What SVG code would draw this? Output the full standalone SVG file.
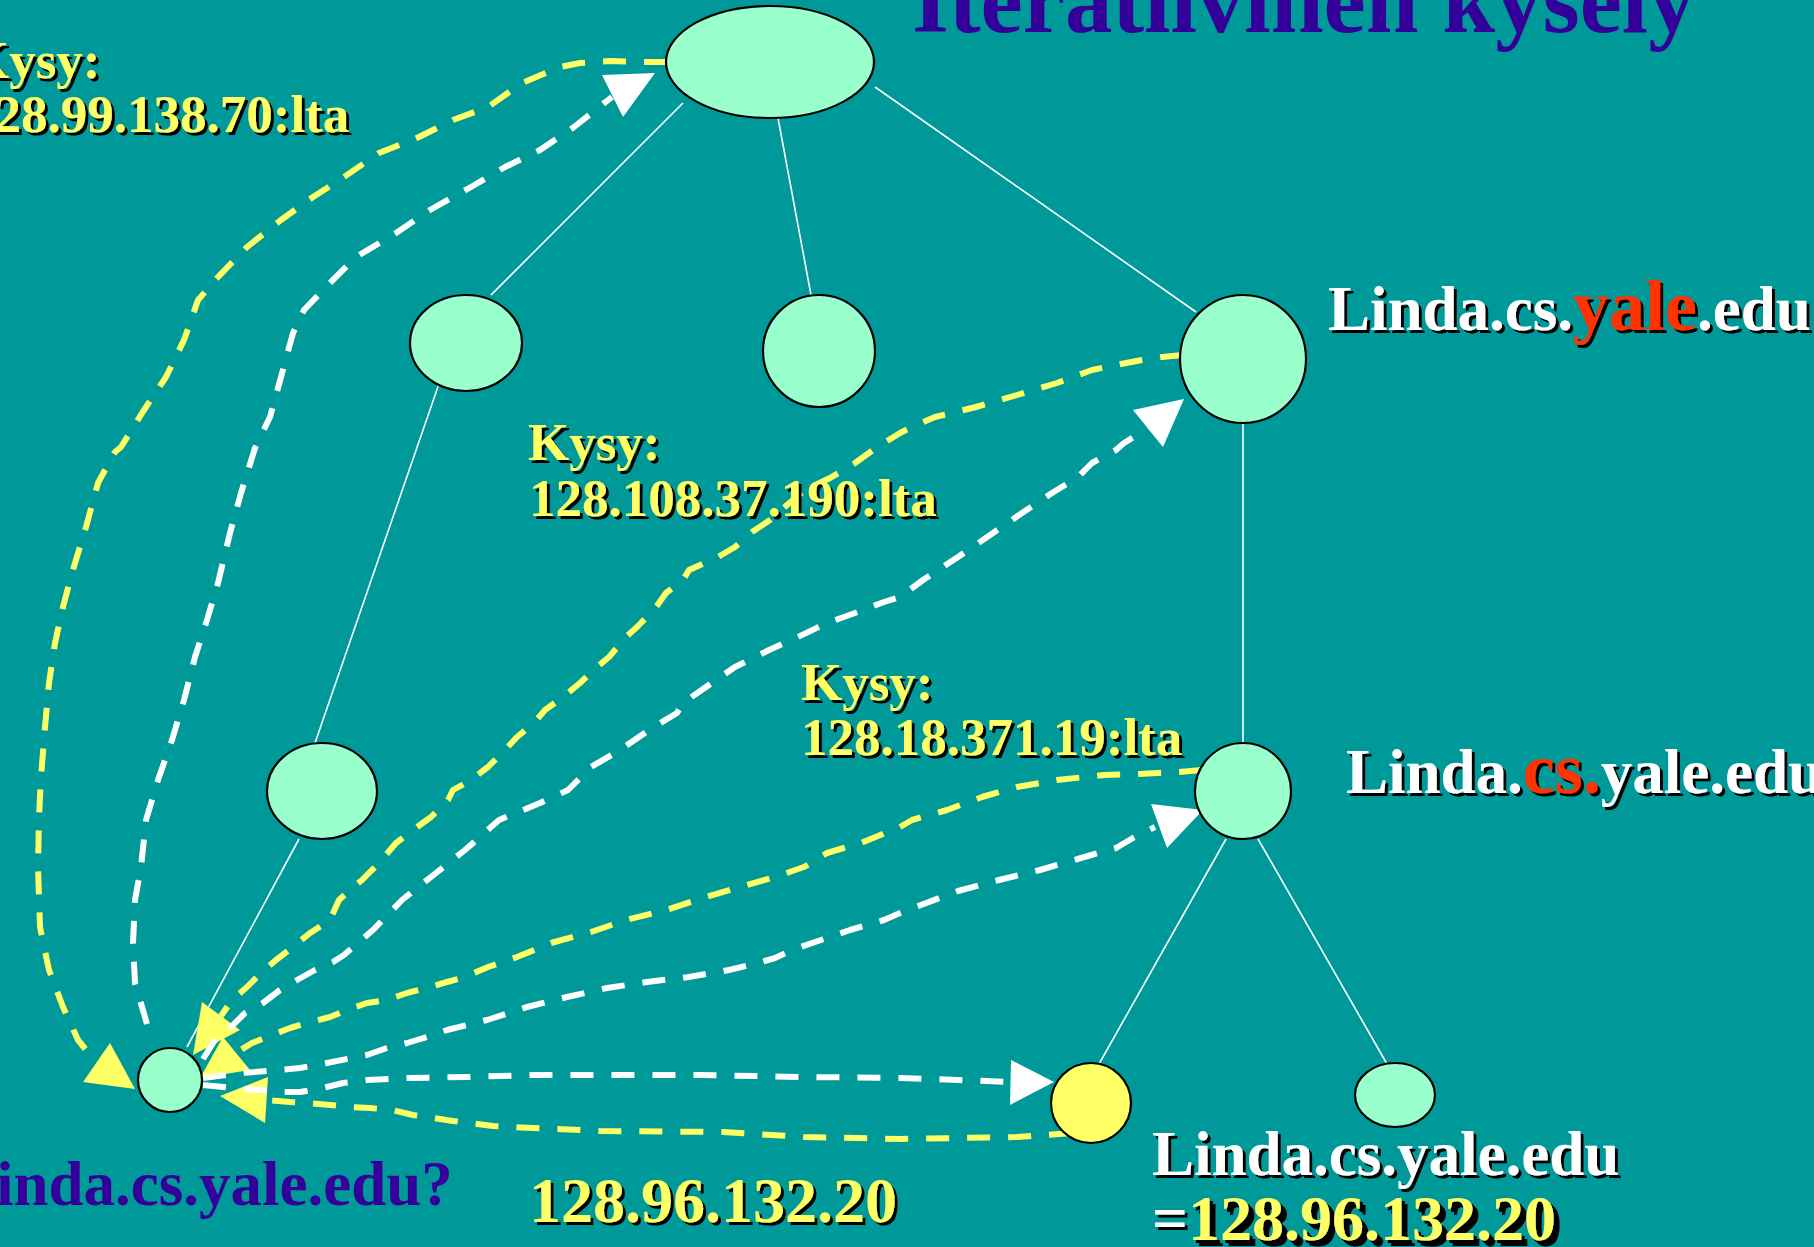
<svg xmlns="http://www.w3.org/2000/svg" width="1814" height="1247" viewBox="0 0 1814 1247">
<defs>
<filter id="sh" x="-5%" y="-20%" width="110%" height="140%">
<feDropShadow dx="3" dy="3" stdDeviation="0" flood-color="#000" flood-opacity="1"/>
</filter>
</defs>
<style>
.tree{stroke:#fff;stroke-width:1.6;fill:none}
.node{fill:#99FFCC;stroke:#000;stroke-width:2.2}
.ans{fill:#FFFF66;stroke:#000;stroke-width:2.2}
.wd{fill:none;stroke:#fff;stroke-width:6;stroke-dasharray:23 18;stroke-linejoin:round}
.yd{fill:none;stroke:#FFFF66;stroke-width:6;stroke-dasharray:23 18;stroke-linejoin:round}
.wa{fill:#fff}
.ya{fill:#FFFF66}
text{font-family:"Liberation Serif","Times New Roman",serif;font-weight:bold}
.lbl{font-size:53px;fill:#FFFF66;filter:url(#sh)}
.nm{font-size:63px;fill:#fff;filter:url(#sh)}
.red{fill:#FF3300;font-size:72px}
.blue{fill:#330099}
.ip{font-size:64px;fill:#FFFF66;filter:url(#sh)}
</style>
<rect x="0" y="0" width="1814" height="1247" fill="#009999"/>

<text x="912" y="32" class="blue" font-size="95">Iteratiivinen kysely</text>

<g id="tree-lines">
<line class="tree" x1="683" y1="103" x2="491" y2="295"/>
<line class="tree" x1="778" y1="118" x2="811" y2="295"/>
<line class="tree" x1="875" y1="87" x2="1196" y2="312"/>
<line class="tree" x1="442" y1="375" x2="315" y2="743"/>
<line class="tree" x1="299" y1="839" x2="187" y2="1047"/>
<line class="tree" x1="1243" y1="423" x2="1243" y2="743"/>
<line class="tree" x1="1226" y1="839" x2="1099" y2="1064"/>
<line class="tree" x1="1258" y1="839" x2="1387" y2="1064"/>
</g>

<g id="connectors">
<path class="yd" d="M667,62 L640,62 L610,61 L580,63 L560,67 L522,83 L488,107 L453,120 L419,137 L379,153 L344,177 L313,197 L281,220 L247,247 L218,277 L198,300 L184,340 L166,377 L144,410 L121,447 L115,452 L98,483 L86,527 L72,573 L63,607 L55,643 L49,683 L45,727 L41,777 L39,817 L38,867 L40,927 L49,970 L63,1007 L78,1040 L96,1062"/>
<path class="yd" d="M1183,355 L1162,357 L1142,360 L1121,364 L1092,370 L1057,383 L1017,395 L976,407 L935,417 L912,427 L900,433 L873,450 L855,463 L830,478 L805,490 L787,505 L770,520 L752,532 L735,547 L718,557 L689,570 L683,580 L666,593 L654,610 L637,627 L626,637 L609,657 L597,667 L580,683 L563,697 L545,710 L534,723 L517,737 L505,750 L488,767 L471,780 L453,790 L448,800 L431,817 L413,830 L396,843 L379,863 L362,880 L350,890 L339,900 L330,920 L310,933 L293,947 L276,960 L261,973 L247,987 L232,1000 L221,1016"/>
<path class="yd" d="M1202,770 L1178,772 L1158,773 L1137,774 L1104,775 L1057,780 L1017,787 L982,797 L947,810 L912,820 L900,827 L861,843 L827,853 L804,867 L775,877 L740,887 L706,897 L666,910 L626,920 L591,932 L551,943 L517,957 L488,967 L465,977 L447,982 L427,988 L407,993 L387,1000 L367,1003 L347,1010 L330,1017 L307,1023 L290,1028 L267,1037 L252,1043 L236,1053"/>
<path class="yd" d="M1072,1133 L1017,1137 L900,1139 L804,1137 L723,1132 L600,1131 L557,1129 L533,1128 L493,1126 L453,1121 L413,1115 L392,1110 L370,1108 L350,1107 L330,1105 L307,1103 L290,1102 L266,1100"/>
<polygon class="ya" points="135,1089 83,1082 110,1043"/>
<polygon class="ya" points="193,1055 202,1002 240,1030"/>
<polygon class="ya" points="200,1078 223,1037 250,1070"/>
<polygon class="ya" points="220,1096 268,1077 265,1123"/>

<path class="wd" d="M147,1024 L135,983 L133,943 L135,900 L141,867 L146,820 L158,780 L172,740 L184,700 L195,657 L207,620 L218,583 L230,533 L241,493 L255,448 L270,417 L281,377 L293,333 L304,310 L330,283 L356,257 L396,233 L430,210 L471,187 L505,167 L540,150 L574,127 L612,97"/>
<path class="wd" d="M203,1059 L215,1040 L230,1028 L245,1013 L263,1003 L280,990 L297,980 L315,970 L333,962 L344,955 L373,930 L402,900 L436,873 L465,850 L499,820 L540,803 L568,790 L591,767 L620,750 L649,730 L677,713 L683,703 L706,687 L735,667 L769,650 L798,637 L827,623 L855,613 L884,602 L900,597 L923,580 L958,557 L993,533 L1022,513 L1052,493 L1078,477 L1092,463 L1116,450 L1124,443 L1148,428"/>
<path class="wd" d="M203,1078 L242,1073 L280,1070 L300,1068 L327,1063 L367,1055 L387,1048 L407,1043 L427,1037 L447,1030 L487,1020 L527,1007 L567,997 L607,988 L647,982 L689,977 L729,970 L758,963 L775,958 L792,950 L821,940 L850,930 L884,920 L900,913 L958,891 L999,880 L1040,870 L1081,858 L1116,848 L1133,838 L1155,827"/>
<path class="wd" d="M203,1085 L242,1089 L263,1090 L283,1092 L300,1092 L323,1088 L343,1083 L367,1080 L407,1078 L467,1077 L533,1075 L700,1075 L804,1077 L900,1078 L958,1080 L1011,1082"/>
<polygon class="wa" points="655,73 602,75 623,117"/>
<polygon class="wa" points="1184,399 1133,410 1163,447"/>
<polygon class="wa" points="1203,810 1151,804 1167,848"/>
<polygon class="wa" points="1054,1082 1011,1060 1010,1105"/>
</g>

<g id="root"><ellipse class="node" cx="770" cy="62" rx="104" ry="56"/></g>
<g id="node-a"><ellipse class="node" cx="466" cy="343" rx="56" ry="48"/></g>
<g id="node-b"><ellipse class="node" cx="819" cy="351" rx="56" ry="56"/></g>
<g id="node-yale"><ellipse class="node" cx="1243" cy="359" rx="63" ry="64"/>
<text x="1328" y="330" class="nm">Linda.cs.<tspan class="red">yale</tspan>.edu</text></g>
<g id="node-d"><ellipse class="node" cx="322" cy="791" rx="55" ry="48"/></g>
<g id="node-cs"><ellipse class="node" cx="1243" cy="791" rx="48" ry="48"/>
<text x="1346" y="793" class="nm">Linda.<tspan class="red">cs.</tspan>yale.edu</text></g>
<g id="client"><ellipse class="node" cx="170" cy="1080" rx="32" ry="32"/>
<text x="-46" y="1205" class="blue" font-size="63">Linda.cs.yale.edu?</text></g>
<g id="answer"><ellipse class="ans" cx="1091" cy="1103" rx="40" ry="40"/>
<text x="1152" y="1175" class="nm">Linda.cs.yale.edu</text>
<text x="1152" y="1240" class="nm" font-size="64">=<tspan class="ip">128.96.132.20</tspan></text></g>
<g id="leaf"><ellipse class="node" cx="1395" cy="1095" rx="40" ry="32"/></g>

<g id="labels">
<text class="lbl" x="-32" y="78">Kysy:</text>
<text class="lbl" x="-32" y="132">128.99.138.70:lta</text>
<text class="lbl" x="528" y="460">Kysy:</text>
<text class="lbl" x="529" y="516">128.108.37.190:lta</text>
<text class="lbl" x="801" y="700">Kysy:</text>
<text class="lbl" x="801" y="755">128.18.371.19:lta</text>
<text class="ip" x="529" y="1222">128.96.132.20</text>
</g>
</svg>
